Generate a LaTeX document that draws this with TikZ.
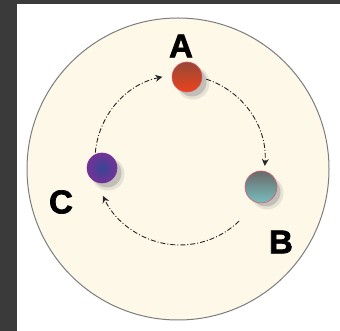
\documentclass[tikz,border=0pt]{standalone}
\usepackage{fontspec}
\setmainfont{Liberation Sans}
\newfontfamily\heavyfont[BoldFeatures={FakeBold=2}]{Liberation Sans}
\usetikzlibrary{arrows.meta,calc}
\definecolor{bgdark}{RGB}{58,58,58}
\definecolor{cream}{RGB}{253,248,232}
\definecolor{rimgray}{RGB}{125,125,125}
\definecolor{rimpink}{RGB}{215,90,110}
\definecolor{aTop}{RGB}{150,72,55}
\definecolor{aBot}{RGB}{236,66,28}
\definecolor{bTop}{RGB}{105,105,105}
\definecolor{bBot}{RGB}{120,190,190}
\definecolor{cIn}{RGB}{55,70,150}
\definecolor{cOut}{RGB}{115,50,150}
\definecolor{shadowgray}{RGB}{150,150,150}
\tikzset{
  ball/.style={circle, inner sep=0pt, minimum size=30pt, draw=rimpink, line width=0.6pt},
  lbl/.style={inner sep=0pt, font=\heavyfont\fontsize{33}{33}\selectfont\bfseries},
  flow/.style={line width=0.9pt, black!85, dash pattern=on 5pt off 2pt on 1pt off 2pt,
    -{Stealth[length=7pt,width=7pt]}},
}
\newcommand{\ballshadow}[1]{%
  \fill[shadowgray, opacity=0.22] ($(#1)+(6,-6)$) circle[radius=16.5pt];
  \fill[shadowgray, opacity=0.45] ($(#1)+(5,-5)$) circle[radius=14.5pt];
}
\begin{document}
\begin{tikzpicture}[x=1pt,y=1pt]
\useasboundingbox (0,0) rectangle (340,331);
\fill[white] (0,0) rectangle (340,331);
\fill[bgdark] (0,0) rectangle (17,331);
\fill[bgdark] (0,327) rectangle (340,331);
\node[circle, draw=rimgray, fill=cream, line width=1pt, inner sep=0pt, minimum size=302pt] (dish) at (178,162) {};
\coordinate (o) at (180,171);
% shadows
\coordinate (pa) at (187,254);
\coordinate (pb) at (261,144);
\coordinate (pc) at (102,163);
\ballshadow{pa}
\ballshadow{pb}
\ballshadow{pc}
% balls
\node[ball, top color=aTop, bottom color=aBot] (a) at (pa) {};
\node[ball, minimum size=32pt, top color=bTop, bottom color=bBot] (b) at (pb) {};
\node[ball, draw=cOut, inner color=cIn, outer color=cOut] (c) at (pc) {};
% labels
\node[lbl] (la) at (181,285) {A};
\node[lbl] (lb) at (281,89) {B};
\node[lbl] (lc) at (61,129) {C};
% arcs
\coordinate (ab1) at ($(o)+(72:85)$);
\coordinate (ca1) at ($(o)+(175:85)$);
\coordinate (bc1) at ($(o)+(-46:85)$);
\draw[flow] (ab1) arc[start angle=72, end angle=-4, radius=85];
\draw[flow] (ca1) arc[start angle=175, end angle=102, radius=85];
\draw[flow] (bc1) arc[start angle=-46, end angle=-155, radius=85];
\end{tikzpicture}
\end{document}
